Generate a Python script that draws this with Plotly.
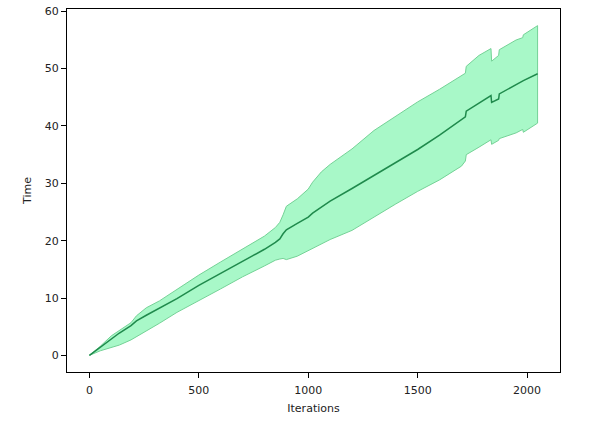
import plotly.graph_objects as go

# values
iterations = [0, 50, 100, 137, 190, 215, 260, 320, 400, 500, 600, 700, 800, 850, 870,
              885, 900, 950, 1000, 1020, 1060, 1100, 1200, 1300, 1400, 1500, 1600, 1700,
              1718, 1722, 1780, 1835, 1838, 1870, 1873, 1950, 1980, 1983, 2048]
time_mean = [0, 1.4, 2.8, 3.9, 5.2, 6.0, 7.0, 8.2, 9.9, 12.2, 14.3, 16.3, 18.5, 19.7, 20.3,
             21.2, 21.9, 23.0, 24.1, 24.8, 25.9, 26.9, 29.1, 31.4, 33.6, 35.9, 38.4, 41.0,
             41.6, 42.6, 44.0, 45.3, 44.1, 44.7, 45.6, 47.2, 47.8, 47.9, 49.1]
time_upper = [0, 1.6, 3.4, 4.4, 5.7, 6.9, 8.3, 9.5, 11.5, 14.0, 16.3, 18.5, 20.8, 22.3, 23.2,
              24.5, 26.0, 27.3, 29.0, 30.2, 32.0, 33.3, 36.0, 39.2, 41.7, 44.2, 46.4, 48.8,
              49.2, 50.4, 52.3, 53.5, 51.3, 52.3, 53.3, 55.0, 55.4, 55.9, 57.5]
time_lower = [0, 0.8, 1.4, 1.8, 2.7, 3.3, 4.3, 5.6, 7.5, 9.5, 11.6, 13.7, 15.6, 16.6, 16.8,
              16.9, 16.7, 17.3, 18.3, 18.7, 19.4, 20.2, 21.8, 24.1, 26.4, 28.6, 30.6, 33.0,
              33.9, 35.0, 36.3, 37.6, 36.8, 37.5, 37.8, 38.8, 39.4, 38.9, 40.5]

fig = go.Figure()

# shaded band as a closed polygon (upper edge out, lower edge back)
fig.add_trace(go.Scatter(
    x=iterations + iterations[::-1],
    y=time_upper + time_lower[::-1],
    fill='toself', fillcolor='#a8f8c8',
    line=dict(color='#74d296', width=1),
    mode='lines', hoverinfo='skip', showlegend=False))

fig.add_trace(go.Scatter(
    x=iterations, y=time_mean, mode='lines',
    line=dict(color='#1f8a4c', width=1.5), showlegend=False))

axis_style = dict(showline=True, linecolor='black', linewidth=1, mirror=True,
                  ticks='outside', ticklen=5, tickcolor='black', showgrid=False,
                  zeroline=False, tickfont=dict(size=11, color='#222'))

fig.update_xaxes(range=[-102.4, 2150.4], tickvals=[0, 500, 1000, 1500, 2000],
                 ticklabelstandoff=3,
                 title=dict(text='Iterations', font=dict(size=11, color='#222'), standoff=8),
                 **axis_style)
fig.update_yaxes(range=[-2.9, 60.4], tickvals=[0, 10, 20, 30, 40, 50, 60],
                 title=dict(text='Time', font=dict(size=11, color='#222'), standoff=10),
                 **axis_style)

fig.update_layout(
    width=599, height=423,
    margin=dict(l=67, r=39, t=5, b=51),
    plot_bgcolor='white', paper_bgcolor='white',
    font=dict(family='DejaVu Sans'))

# page body has a default margin; drop it so the figure sits at the window corner
fig.write_html("out.html", config={'displayModeBar': False},
               post_script="document.body.style.margin='0';")
